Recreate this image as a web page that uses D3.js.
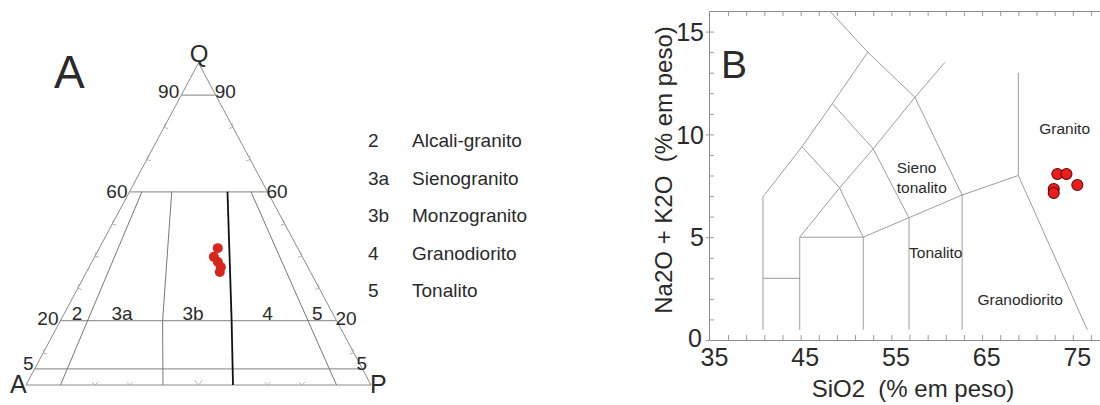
<!DOCTYPE html>
<html>
<head>
<meta charset="utf-8">
<script src="https://cdn.jsdelivr.net/npm/d3@7"></script>
<style>
    body { margin: 0; background: #fff; }
    text { font-family: 'Liberation Sans', Arial, sans-serif; fill: #2a2a2a; }
</style>
</head>
<body>
<div id="viz"></div>
<script>
// ---- panel A (QAP) data, Q in %, r = P/(A+P) in %
const qLines = [90, 60, 20, 5]
const fieldLines = [
    [[60, 9], [0, 10]],
    [[60, 30.6], [20, 37], [0, 39.7]],
    [[60, 88], [0, 90]]
]
const boldLine = [[60, 71], [20, 62], [0, 60]]
const sideTicks = [10, 30, 40, 50, 70, 80]
const baseTicks = [20, 30, 50, 70, 80]
const qapSamples = [[42.5, 59.7], [39.8, 57.4], [38.2, 59.1], [36.6, 60.2], [35.1, 59.5]]
const regionLabels = [['2', 6], ['3a', 22.3], ['3b', 48], ['4', 75], ['5', 93]]
const legendCodes = ['2', '3a', '3b', '4', '5']
const legendNames = ['Alcali-granito', 'Sienogranito', 'Monzogranito', 'Granodiorito', 'Tonalito']

// ---- panel B (TAS) data, SiO2 vs Na2O + K2O
const tasLines = [
    [[47.2, 16], [51.4, 14.0], [56.6, 11.8], [61.8, 7.05], [61.8, 0.5]],
    [[51.4, 14.0], [47.5, 11.5], [44.15, 9.4], [39.85, 6.96], [39.85, 0.5]],
    [[47.5, 11.5], [52.0, 9.3], [55.95, 5.93], [55.95, 0.5]],
    [[44.15, 9.4], [48.3, 7.4], [50.9, 5.0], [50.9, 0.5]],
    [[59.9, 13.5], [56.6, 11.8], [52.0, 9.3], [48.3, 7.4], [43.9, 5.0], [43.9, 0.5]],
    [[43.9, 5.0], [50.9, 5.0], [61.8, 7.05], [68.0, 8.0]],
    [[39.85, 3.0], [43.9, 3.0]],
    [[68.0, 13.0], [68.0, 8.0], [75.6, 0.5]]
]
const tasNames = [['Granito', 70.3, 10.0], ['Sieno', 54.6, 8.1], ['tonalito', 54.6, 7.15],
    ['Tonalito', 55.95, 4.0], ['Granodiorito', 63.5, 1.7]]
const sio2 = [72.3, 73.3, 74.5, 71.9, 71.9]
const alk = [8.07, 8.07, 7.54, 7.34, 7.15]
const xLabels = [35, 45, 55, 65, 75]
const yLabels = [0, 5, 10, 15]

const w = 1100, h = 405

const svg = d3.select('#viz')
    .append('svg')
    .attr('width', w)
    .attr('height', h)
    .attr('viewBox', [0, 0, w, h])

// ================= A =================
const gA = svg.append('g')

const qy = d3.scaleLinear().domain([0, 100]).range([385, 63])
const leftX = d3.scaleLinear().domain([0, 100]).range([26, 198.5])
const rightX = d3.scaleLinear().domain([0, 100]).range([371, 198.5])
const proj = ([q, r]) => {
    const l = leftX(q), rr = rightX(q)
    return [l + (rr - l) * r / 100, qy(q)]
}
const line = d3.line()

// triangle
gA.append('path')
    .attr('d', line([[0, 0], [0, 100], [100, 0]].map(proj)) + 'Z')
    .attr('fill', 'none')
    .attr('stroke', '#8a8a8a')
    .attr('stroke-width', 1)

gA.selectAll('.qline')
    .data(qLines)
    .enter()
    .append('path')
    .attr('d', d => line([proj([d, 0]), proj([d, 100])]))
    .attr('stroke', '#9a9a9a')
    .attr('stroke-width', 1.2)

gA.selectAll('.fline')
    .data(fieldLines)
    .enter()
    .append('path')
    .attr('d', d => line(d.map(proj)))
    .attr('fill', 'none')
    .attr('stroke', '#777')
    .attr('stroke-width', 1)

gA.append('path')
    .attr('d', line(boldLine.map(proj)))
    .attr('fill', 'none')
    .attr('stroke', '#111')
    .attr('stroke-width', 1.8)

// little chevron ticks on the sides and base
const chev = (x, y, ang) => `translate(${x},${y}) rotate(${ang})`
const chevPath = 'M-3,-3L0,0L3,-3'
sideTicks.forEach(q => {
    const [xl, yl] = proj([q, 0])
    const [xr, yr] = proj([q, 100])
    gA.append('path').attr('d', chevPath).attr('transform', chev(xl, yl, 60))
        .attr('fill', 'none').attr('stroke', '#aaa').attr('stroke-width', 0.8)
    gA.append('path').attr('d', chevPath).attr('transform', chev(xr, yr, -60))
        .attr('fill', 'none').attr('stroke', '#aaa').attr('stroke-width', 0.8)
})
baseTicks.forEach(r => {
    const [x, y] = proj([0, r])
    gA.append('path').attr('d', r === 50 ? 'M-4,-5L0,0L4,-5' : chevPath)
        .attr('transform', chev(x, y, 0))
        .attr('fill', 'none').attr('stroke', '#aaa').attr('stroke-width', 0.8)
})

gA.selectAll('circle')
    .data(qapSamples)
    .enter()
    .append('circle')
    .attr('cx', d => proj(d)[0])
    .attr('cy', d => proj(d)[1])
    .attr('r', 5)
    .attr('fill', '#d9261c')

// corner and scale labels
gA.append('text').attr('x', 54).attr('y', 88).style('font-size', '46px').text('A')
gA.append('text').attr('x', 199).attr('y', 62).attr('text-anchor', 'middle').style('font-size', '24px').text('Q')
gA.append('text').attr('x', 10).attr('y', 393).style('font-size', '25px').text('A')
gA.append('text').attr('x', 370).attr('y', 393).style('font-size', '25px').text('P')

const qLabelY = { 90: 98, 60: 198, 20: 325, 5: 370 }
qLines.forEach(q => {
    const [xl] = proj([q, 0])
    const [xr] = proj([q, 100])
    gA.append('text')
        .attr('x', q === 5 ? xl - 1 : xl - 2)
        .attr('y', qLabelY[q])
        .attr('text-anchor', 'end')
        .style('font-size', '19px')
        .text(q)
    gA.append('text')
        .attr('x', q === 5 ? xr - 6 : xr - 1)
        .attr('y', qLabelY[q])
        .style('font-size', '19px')
        .text(q)
})

gA.selectAll('.region')
    .data(regionLabels)
    .enter()
    .append('text')
    .attr('x', d => proj([20, d[1]])[0])
    .attr('y', 320)
    .attr('text-anchor', 'middle')
    .style('font-size', '19px')
    .text(d => d[0])

const legY = d3.scalePoint().domain(legendCodes).range([147, 297])
gA.selectAll('.lcode')
    .data(legendCodes)
    .enter()
    .append('text')
    .attr('x', 368)
    .attr('y', d => legY(d))
    .style('font-size', '19px')
    .text(d => d)
gA.selectAll('.lname')
    .data(legendNames)
    .enter()
    .append('text')
    .attr('x', 412)
    .attr('y', (d, i) => legY(legendCodes[i]))
    .style('font-size', '19px')
    .text(d => d)

// ================= B =================
const gB = svg.append('g')

const x = d3.scaleLinear().domain([33.9, 77]).range([709, 1100])
const y = d3.scaleLinear().domain([0, 16]).range([340, 11])

const axisStyle = (sel) => {
    sel.select('.domain').attr('stroke', '#8a8a8a')
    sel.selectAll('.tick line').attr('stroke', '#9a9a9a')
}

gB.append('g')
    .attr('transform', `translate(0, ${y(0)})`)
    .call(d3.axisBottom(x).tickValues(d3.range(36, 78, 2)).tickSize(-5).tickSizeOuter(0).tickFormat(''))
    .call(axisStyle)

gB.append('g')
    .attr('transform', `translate(0, ${y(16)})`)
    .call(d3.axisTop(x).tickValues(d3.range(36, 78, 2)).tickSize(-5).tickSizeOuter(0).tickFormat(''))
    .call(axisStyle)

gB.append('g')
    .attr('transform', `translate(${x.range()[0]}, 0)`)
    .call(d3.axisLeft(y).tickValues(d3.range(1, 16)).tickSize(-5).tickSizeOuter(0).tickFormat(''))
    .call(axisStyle)

// tick labels
const xLab = gB.append('g')
    .attr('transform', `translate(0, ${y(0)})`)
    .call(d3.axisBottom(x).tickValues(xLabels).tickSize(0).tickPadding(8))
xLab.select('.domain').remove()
xLab.selectAll('text')
    .attr('dx', -5)
    .style('font-size', '25px')
    .style('font-family', "'Liberation Sans', Arial, sans-serif")
    .attr('fill', '#2a2a2a')

const yLab = gB.append('g')
    .attr('transform', `translate(${x.range()[0]}, 0)`)
    .call(d3.axisLeft(y).tickValues(yLabels).tickSize(3).tickPadding(2))
yLab.select('.domain').remove()
yLab.selectAll('.tick line').attr('stroke', '#9a9a9a')
yLab.selectAll('text')
    .style('font-size', '25px')
    .style('font-family', "'Liberation Sans', Arial, sans-serif")
    .attr('fill', '#2a2a2a')
    .attr('x', d => d === 0 ? -7 : -5)
    .attr('dy', d => d === 0 ? '0.25em' : '0.35em')

// field boundaries
gB.selectAll('.tas')
    .data(tasLines)
    .enter()
    .append('path')
    .attr('d', d => line(d.map(p => [x(p[0]), y(p[1])])))
    .attr('fill', 'none')
    .attr('stroke', '#9d9d9d')
    .attr('stroke-width', 1)

gB.selectAll('.tname')
    .data(tasNames)
    .enter()
    .append('text')
    .attr('x', d => x(d[1]))
    .attr('y', d => y(d[2]))
    .style('font-size', '15.5px')
    .text(d => d[0])

gB.selectAll('circle')
    .data(sio2)
    .enter()
    .append('circle')
    .attr('cx', d => x(d))
    .attr('cy', (d, i) => y(alk[i]))
    .attr('r', 5.5)
    .attr('fill', '#ec1c1c')
    .attr('stroke', '#5e0b0b')
    .attr('stroke-width', 1.1)

gB.append('text').attr('x', 721).attr('y', 78).style('font-size', '39px').text('B')

gB.append('text')
    .attr('x', 913)
    .attr('y', 397)
    .attr('text-anchor', 'middle')
    .style('font-size', '24px')
    .style('white-space', 'pre')
    .text('SiO2  (% em peso)')

gB.append('text')
    .attr('transform', 'translate(672, 170) rotate(-90)')
    .attr('text-anchor', 'middle')
    .style('font-size', '24px')
    .style('white-space', 'pre')
    .text('Na2O + K2O  (% em peso)')
</script>
</body>
</html>
